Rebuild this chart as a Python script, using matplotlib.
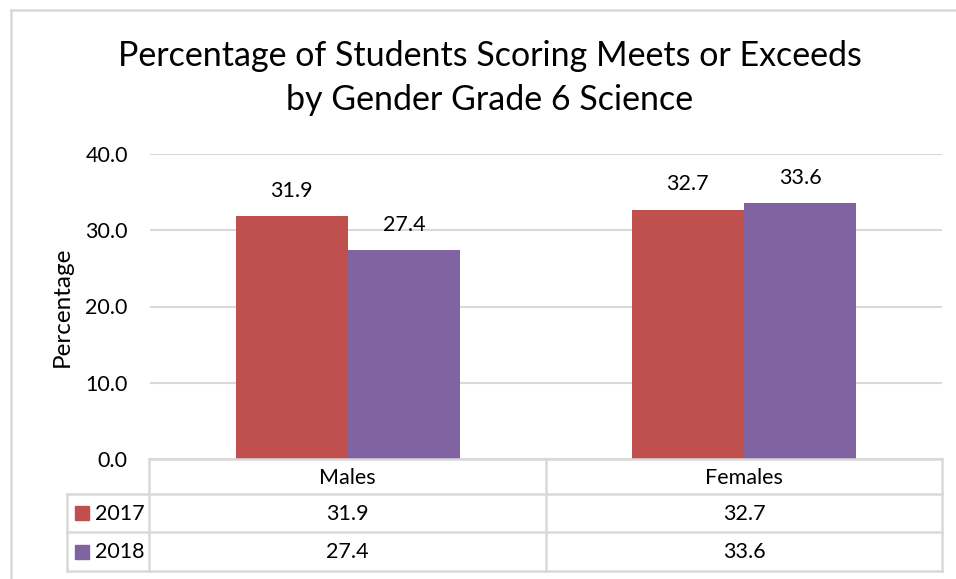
import matplotlib.pyplot as plt
from matplotlib.lines import Line2D
from matplotlib.patches import Rectangle

categories = ["Males", "Females"]
years = ["2017", "2018"]
values_2017 = [31.9, 32.7]
values_2018 = [27.4, 33.6]
colors = ["#c0504d", "#8064a2"]
grid_color = "#d9d9d9"

plt.rcParams["font.family"] = ["Lato", "DejaVu Sans"]
fs = 15.5

W, H = 956, 579
fig = plt.figure(figsize=(W / 100, H / 100), dpi=100)

# plot area in pixels
left, right, top, bottom = 150, 942, 154, 459
ax = fig.add_axes([left / W, 1 - bottom / H, (right - left) / W, (bottom - top) / H])

width = 0.284
x = range(len(categories))
series = [values_2017, values_2018]
for i, (vals, col) in enumerate(zip(series, colors)):
    pos = [k + (i - 0.5) * width for k in x]
    ax.bar(pos, vals, width, color=col, zorder=3)
    for p, v in zip(pos, vals):
        ax.text(p, v + 2.0, f"{v:.1f}", ha="center", va="bottom", fontsize=fs)

ax.set_xlim(-0.5, 1.5)
ax.set_ylim(0, 40)
ax.set_yticks([0, 10, 20, 30, 40])
ax.set_yticklabels([f"{t:.1f}" for t in [0, 10, 20, 30, 40]], fontsize=fs)
ax.yaxis.grid(True, color=grid_color, lw=1.5, zorder=0)
ax.tick_params(axis="y", length=0, pad=16)
ax.set_xticks([])
for s in ax.spines.values():
    s.set_visible(False)
ax.set_ylabel("Percentage", fontsize=17.5)
ax.yaxis.set_label_coords(-0.098, 0.5)


def px(xp, yp):
    return xp / W, 1 - yp / H


def hline(x0, x1, y):
    a, b = px(x0, y), px(x1, y)
    fig.add_artist(Line2D([a[0], b[0]], [a[1], b[1]], color=grid_color, lw=1.8))


def vline(xp, y0, y1):
    a, b = px(xp, y0), px(xp, y1)
    fig.add_artist(Line2D([a[0], b[0]], [a[1], b[1]], color=grid_color, lw=1.8))


# data table under the axis
rows_y = [459, 494, 532, 571]
col_x = [149, 546, 942]
leg_x = 67
hline(col_x[0], col_x[2], rows_y[0])
for y in rows_y[1:]:
    hline(leg_x, col_x[2], y)
for xc in col_x:
    vline(xc, rows_y[0], rows_y[3])
vline(leg_x, rows_y[1], rows_y[3])

for j, cat in enumerate(categories):
    cx = (col_x[j] + col_x[j + 1]) / 2
    fig.text(*px(cx, (rows_y[0] + rows_y[1]) / 2 + 1), cat, ha="center", va="center", fontsize=fs)
    for i, vals in enumerate(series):
        cy = (rows_y[i + 1] + rows_y[i + 2]) / 2 + 1
        fig.text(*px(cx, cy), f"{vals[j]:.1f}", ha="center", va="center", fontsize=fs)

for i, (yr, col) in enumerate(zip(years, colors)):
    cy = (rows_y[i + 1] + rows_y[i + 2]) / 2
    sx, sy = px(75, cy + 7)
    fig.add_artist(Rectangle((sx, sy), 14 / W, 14 / H, color=col, transform=fig.transFigure))
    fig.text(*px(95, cy + 1), yr, ha="left", va="center", fontsize=fs)

# chart border (top and left edges)
hline(11, W, 10)
vline(11, 10, H)

fig.text(*px(490, 56), "Percentage of Students Scoring Meets or Exceeds", ha="center", va="center", fontsize=24.5)
fig.text(*px(490, 100), "by Gender Grade 6 Science", ha="center", va="center", fontsize=24.5)

fig.savefig("out.png", dpi=100)
